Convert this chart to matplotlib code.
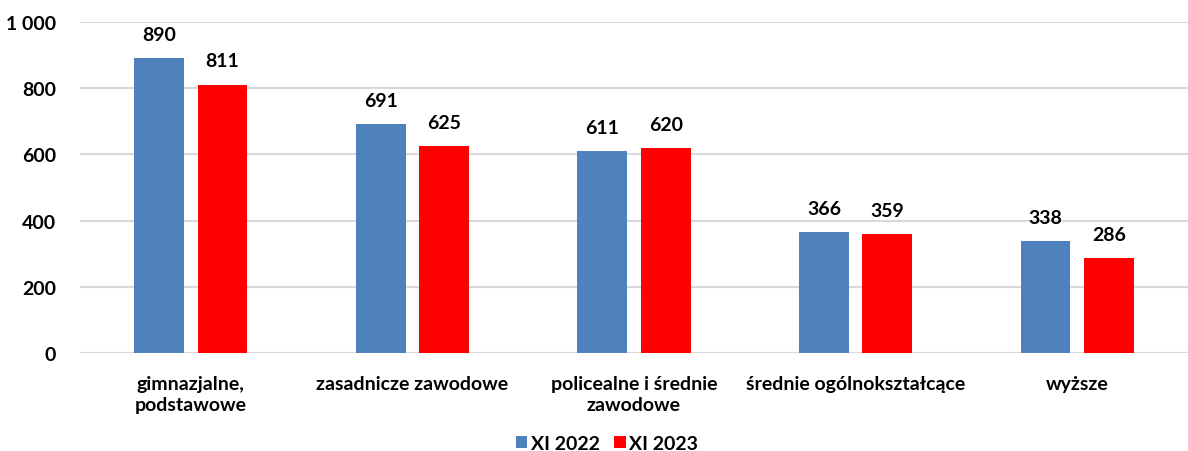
import matplotlib
matplotlib.use("Agg")
import matplotlib.pyplot as plt
import numpy as np

plt.rcParams['font.family'] = ['Lato', 'DejaVu Sans']
plt.rcParams['font.weight'] = 'bold'

categories = ["gimnazjalne,\npodstawowe", "zasadnicze zawodowe",
              "policealne i średnie\nzawodowe", "średnie ogólnokształcące", "wyższe"]
series_names = ["XI 2022", "XI 2023"]
values_2022 = [890, 691, 611, 366, 338]
values_2023 = [811, 625, 620, 359, 286]
yticks = [0, 200, 400, 600, 800, 1000]
ytick_labels = ["0", "200", "400", "600", "800", "1 000"]

blue = "#4F81BD"
red = "#FF0000"
fs = 14

fig = plt.figure(figsize=(11.88, 4.52), dpi=100)
ax = fig.add_axes([0.0673, 0.2168, 0.9327, 0.7322])

x = np.arange(len(categories))
w = 0.225
off = 0.143
b1 = ax.bar(x - off, values_2022, w, color=blue, label=series_names[0], zorder=3)
b2 = ax.bar(x + off, values_2023, w, color=red, label=series_names[1], zorder=3)

for bars in (b1, b2):
    for r in bars:
        ax.annotate(f"{int(r.get_height())}", (r.get_x() + r.get_width() / 2, r.get_height()),
                    xytext=(0, 11), textcoords="offset points", ha="center", va="bottom",
                    fontsize=fs, fontweight="bold", color="black")

ax.set_xlim(-0.5, len(categories) - 0.5)
ax.set_ylim(0, 1000)
ax.set_yticks(yticks)
ax.set_yticklabels(ytick_labels, fontsize=fs, fontweight="bold")
ax.set_xticks(x)
ax.set_xticklabels(categories, fontsize=fs, fontweight="bold", va="top", linespacing=1.3)
ax.tick_params(axis="both", length=0)
ax.tick_params(axis="x", pad=16)
ax.tick_params(axis="y", pad=17)
ax.yaxis.grid(True, color="#D9D9D9", linewidth=1.5, zorder=0)
for s in ax.spines.values():
    s.set_visible(False)

fig.legend(handles=[b1, b2], labels=series_names, loc="lower center",
           bbox_to_anchor=(0.511, -0.024), ncol=2, frameon=False, borderpad=0,
           handlelength=0.6, handleheight=0.6, handletextpad=0.2, columnspacing=0.7,
           prop={'weight': 'bold', 'size': fs})

fig.savefig("out.png", dpi=100)
